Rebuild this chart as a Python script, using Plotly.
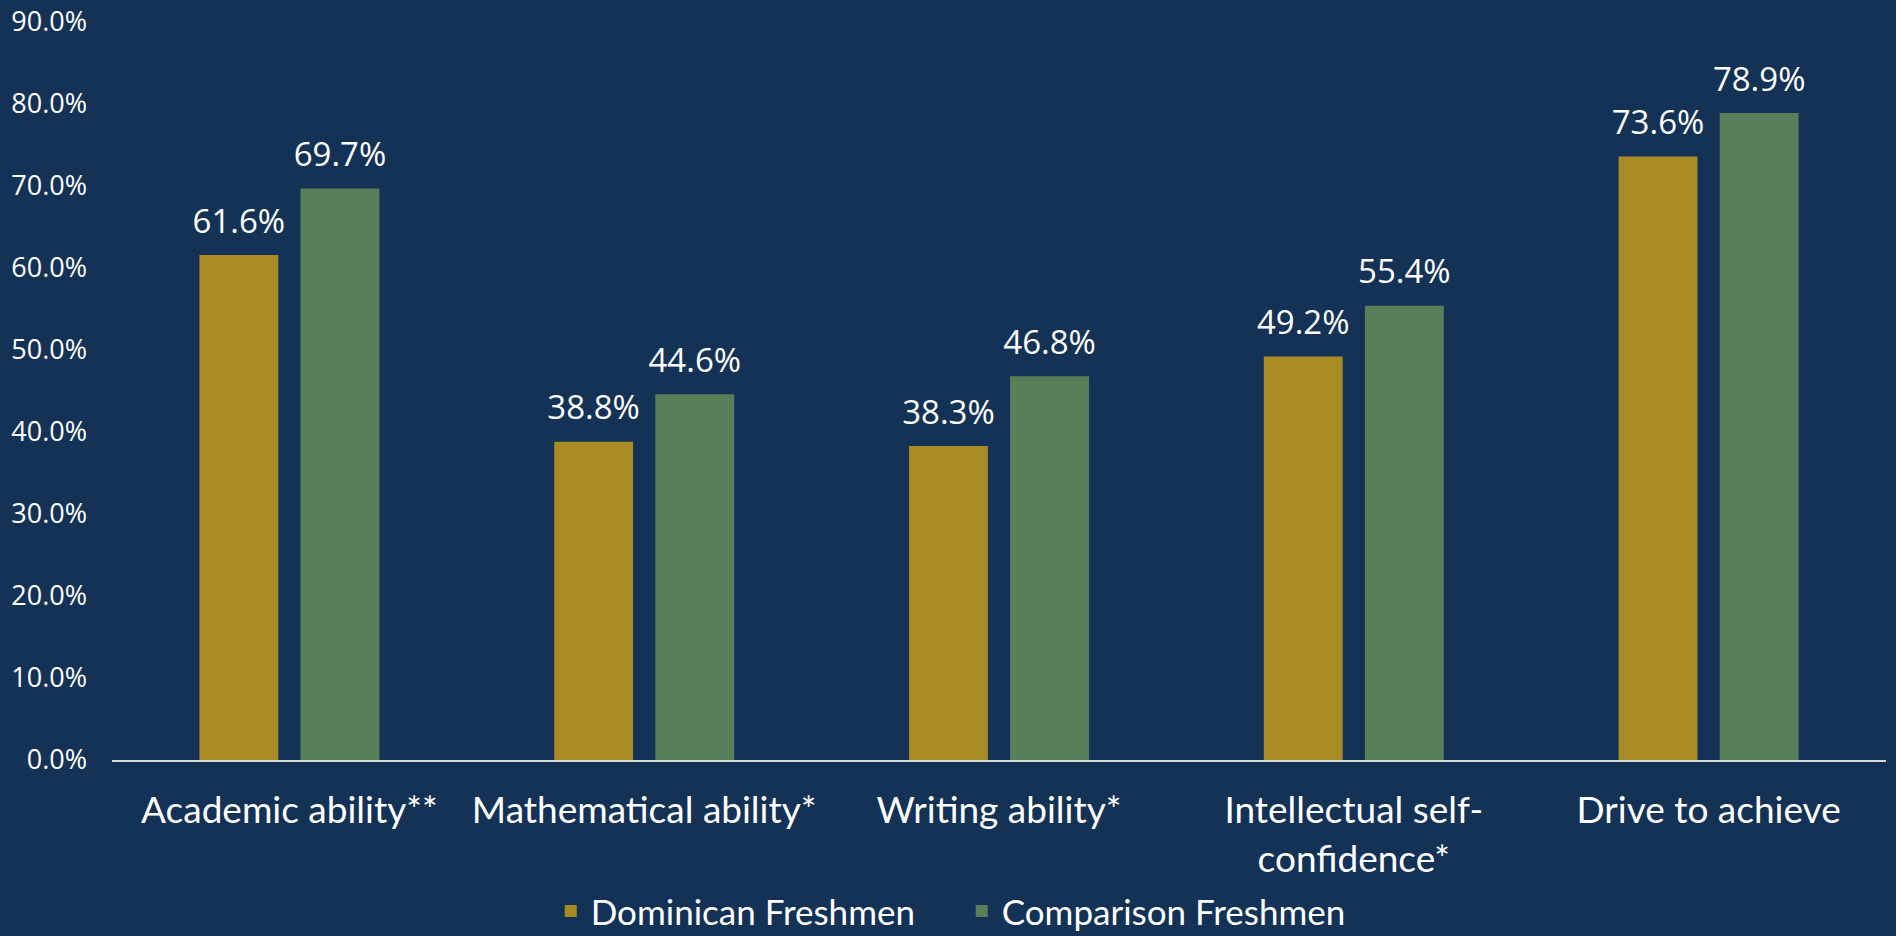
import plotly.graph_objects as go

categories = ["Academic ability**", "Mathematical ability*", "Writing ability*",
              "Intellectual self-<br>confidence*", "Drive to achieve"]
dominican = [0.616, 0.388, 0.383, 0.492, 0.736]
comparison = [0.697, 0.446, 0.468, 0.554, 0.789]
series_names = ["Dominican Freshmen", "Comparison Freshmen"]
tick_vals = [0.0, 0.1, 0.2, 0.3, 0.4, 0.5, 0.6, 0.7, 0.8, 0.9]

GOLD = "#A98B26"
GREEN = "#57805A"
BG = "#133256"
BARGAP = 0.43

fig = go.Figure()
series = [(series_names[0], dominican, GOLD), (series_names[1], comparison, GREEN)]
for name, vals, col in series:
    fig.add_trace(go.Bar(
        x=categories, y=vals, name=name,
        marker=dict(color=col, line=dict(width=0)),
    ))
# value labels, grouped the same way as the bars
for name, vals, col in series:
    fig.add_trace(go.Scatter(
        x=categories, y=vals, mode="markers+text", showlegend=False, hoverinfo="skip",
        marker=dict(size=21, opacity=0, color=col),
        text=[f"{v*100:.1f}%" for v in vals],
        textposition="top center", cliponaxis=False,
        textfont=dict(family="Open Sans", size=33, color="white"),
    ))

fig.update_layout(
    width=1896, height=936,
    paper_bgcolor=BG, plot_bgcolor=BG,
    margin=dict(l=112, r=10, t=22, b=176, autoexpand=False),
    barmode="group", bargap=BARGAP, bargroupgap=0.22,
    scattermode="group", scattergap=BARGAP,
    showlegend=True,
    legend=dict(orientation="h", x=0.479, xanchor="center", y=-0.205, yanchor="middle",
                font=dict(family="Lato", size=35, color="white"),
                bgcolor="rgba(0,0,0,0)", itemwidth=30, entrywidth=366),
    font=dict(family="Open Sans", color="white"),
)
fig.update_yaxes(range=[0, 0.9], tickvals=tick_vals, tickformat=".1%",
                 showgrid=False, zeroline=False, showline=False, automargin=False,
                 tickfont=dict(family="Open Sans", size=27, color="white"),
                 ticklabelstandoff=24)
fig.update_xaxes(showline=True, linecolor="#D9D9D9", linewidth=2, automargin=False,
                 tickfont=dict(family="Lato", size=37, color="white"),
                 ticks="", ticklabelstandoff=17)

fig.write_html("out.html", config={"displayModeBar": False},
               post_script="document.body.style.margin='0';document.body.style.overflow='hidden';document.body.style.background='#133256';")
